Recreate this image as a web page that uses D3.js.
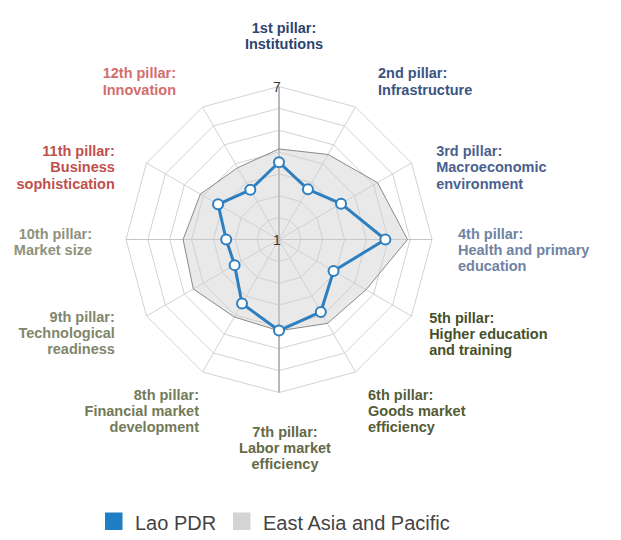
<!DOCTYPE html>
<html>
<head>
<meta charset="utf-8">
<script src="https://cdn.jsdelivr.net/npm/d3@7/dist/d3.min.js"></script>
<style>
  html, body { margin: 0; padding: 0; background: #fff; }
  svg { display: block; font-family: "Liberation Sans", Arial, Helvetica, sans-serif; }
</style>
</head>
<body>
<svg id="chart" width="621" height="540"></svg>
<script>
// ---- data ----
const pillars = [
  ["1st pillar:", "Institutions"],
  ["2nd pillar:", "Infrastructure"],
  ["3rd pillar:", "Macroeconomic", "environment"],
  ["4th pillar:", "Health and primary", "education"],
  ["5th pillar:", "Higher education", "and training"],
  ["6th pillar:", "Goods market", "efficiency"],
  ["7th pillar:", "Labor market", "efficiency"],
  ["8th pillar:", "Financial market", "development"],
  ["9th pillar:", "Technological", "readiness"],
  ["10th pillar:", "Market size"],
  ["11th pillar:", "Business", "sophistication"],
  ["12th pillar:", "Innovation"]
];
const laoPDR = [4.03, 3.27, 3.81, 5.17, 3.47, 4.28, 4.57, 3.90, 3.01, 3.07, 3.76, 3.25];
const eastAsiaPacific = [4.55, 4.85, 5.46, 6.04, 4.94, 4.80, 4.58, 4.51, 4.88, 4.76, 4.56, 4.25];
const seriesNames = ["Lao PDR", "East Asia and Pacific"];
const scaleMin = 1, scaleMax = 7;
const tickLabels = ["1", "7"];

// ---- layout / style ----
const labelColors = ["#2d4470", "#3b5482", "#4a6290", "#7083a3", "#46502a", "#545c37",
                     "#636a48", "#737a58", "#80866a", "#8e927a", "#c0504d", "#d36d6d"];
// small per-label nudges (px) relative to the angular anchor
const labelNudge = [[5,-28.5],[10,-7],[3,5.5],[1,-1],[-4,-6],[0,6],[6,19],[9,6],[-10,-7],[-9,-0.5],[-10,5.5],[-14,-7]];

const cx = 279, cy = 239.5, R = 153, labelR = 178, lineH = 16.4;
const svg = d3.select("#chart");
const n = pillars.length;
const angle = d3.scaleLinear().domain([0, n]).range([0, 2 * Math.PI]);
const rScale = d3.scaleLinear().domain([scaleMin, scaleMax]).range([0, R]);
const pt = (i, v) => [cx + rScale(v) * Math.sin(angle(i)), cy - rScale(v) * Math.cos(angle(i))];

// grid rings: 7 evenly spaced rings between min and max
const ringCount = 7;
const ringVals = d3.range(1, ringCount + 1).map(k => scaleMin + k * (scaleMax - scaleMin) / ringCount);
const g = svg.append("g");
ringVals.forEach(v => {
  g.append("polygon")
    .attr("points", d3.range(n).map(i => pt(i, v).join(",")).join(" "))
    .attr("fill", "none").attr("stroke", "#d2d2d2").attr("stroke-width", 1);
});
d3.range(n).forEach(i => {
  const [x, y] = pt(i, scaleMax);
  g.append("line").attr("x1", cx).attr("y1", cy).attr("x2", x).attr("y2", y)
    .attr("stroke", "#d2d2d2").attr("stroke-width", 1);
});
// y axis line (vertical)
g.append("line").attr("x1", cx).attr("y1", pt(0, scaleMax)[1]).attr("x2", cx).attr("y2", cy - (pt(0, scaleMax)[1] - cy))
  .attr("stroke", "#a8a8a8").attr("stroke-width", 1.5);
g.append("line").attr("x1", pt(9, scaleMax)[0]).attr("y1", cy).attr("x2", pt(3, scaleMax)[0]).attr("y2", cy)
  .attr("stroke", "#c4c4c4").attr("stroke-width", 1.2);

// East Asia and Pacific area
const line = d3.line().curve(d3.curveLinearClosed);
svg.append("path")
  .attr("d", line(eastAsiaPacific.map((v, i) => pt(i, v))))
  .attr("fill", "#cfcfcf").attr("fill-opacity", 0.45)
  .attr("stroke", "#8a8a8a").attr("stroke-width", 1);

// Lao PDR line
svg.append("path")
  .attr("d", line(laoPDR.map((v, i) => pt(i, v))))
  .attr("fill", "none").attr("stroke", "#2e7fc0").attr("stroke-width", 3)
  .attr("stroke-linejoin", "round");
svg.selectAll("circle.m").data(laoPDR).enter().append("circle")
  .attr("class", "m")
  .attr("cx", (v, i) => pt(i, v)[0]).attr("cy", (v, i) => pt(i, v)[1])
  .attr("r", 5).attr("fill", "#fff").attr("stroke", "#2e7fc0").attr("stroke-width", 2);

// tick labels
[scaleMin, scaleMax].forEach((v, k) => {
  svg.append("text").attr("x", cx - 2).attr("y", pt(0, v)[1] + 5.5)
    .attr("text-anchor", "middle").attr("font-size", 14).attr("fill", "#333")
    .text(tickLabels[k]);
});

// category labels
pillars.forEach((lines, i) => {
  const a = angle(i), s = Math.sin(a);
  const anchor = s > 0.1 ? "start" : (s < -0.1 ? "end" : "middle");
  const x = cx + labelR * s + labelNudge[i][0];
  const y = cy - labelR * Math.cos(a) + labelNudge[i][1];
  const t = svg.append("text").attr("text-anchor", anchor)
    .attr("font-size", 14.5).attr("font-weight", "bold").attr("fill", labelColors[i]);
  lines.forEach((ln, j) => t.append("tspan").attr("x", x).attr("y", y + j * lineH).text(ln));
});

// legend
const legend = svg.append("g");
const legendColors = ["#1f7ec6", "#d4d4d4"];
const legendX = [105, 233];
seriesNames.forEach((name, k) => {
  legend.append("rect").attr("x", legendX[k]).attr("y", 512.5).attr("width", 17.5).attr("height", 17.5)
    .attr("fill", legendColors[k]);
  legend.append("text").attr("x", legendX[k] + 30).attr("y", 530)
    .attr("font-size", 20).attr("fill", "#444").text(name);
});
</script>
</body>
</html>
